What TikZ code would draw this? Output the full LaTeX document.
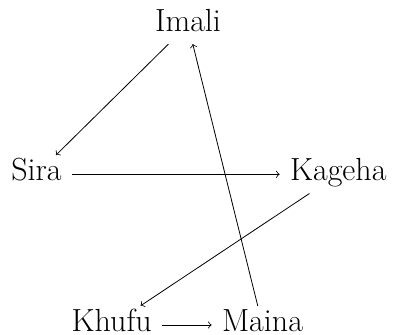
\documentclass[tikz,border=0pt]{standalone}
\usepackage{tikz}

\tikzset{
    person/.style={anchor=base, inner sep=5pt, text height=1.8ex, text depth=.25ex,
        font=\fontsize{16}{19}\selectfont},
    link/.style={->}
}

\begin{document}
\begin{tikzpicture}[x=0.5pt, y=-0.5pt]
    \useasboundingbox (0,0) rectangle (393,335);
    % Below nodes are the names.
        \node[person] (imali) at (188, 31.5) {Imali};
        \node[person] (sira) at (36.5, 181) {Sira};
        \node[person] (kageha) at (338.3, 181) {Kageha};
        \node[person] (khufu) at (111.7, 331.7) {Khufu};
        \node[person] (maina) at (262.5, 331.7) {Maina};
    % This draws the arrows between them.
        \draw[link] (imali) -- (sira);
        \draw[link] (sira) -- (kageha);
        \draw[link] (kageha) -- (khufu);
        \draw[link] (khufu) -- (maina);
        \draw[link] (maina) -- (imali);
\end{tikzpicture}
\end{document}
